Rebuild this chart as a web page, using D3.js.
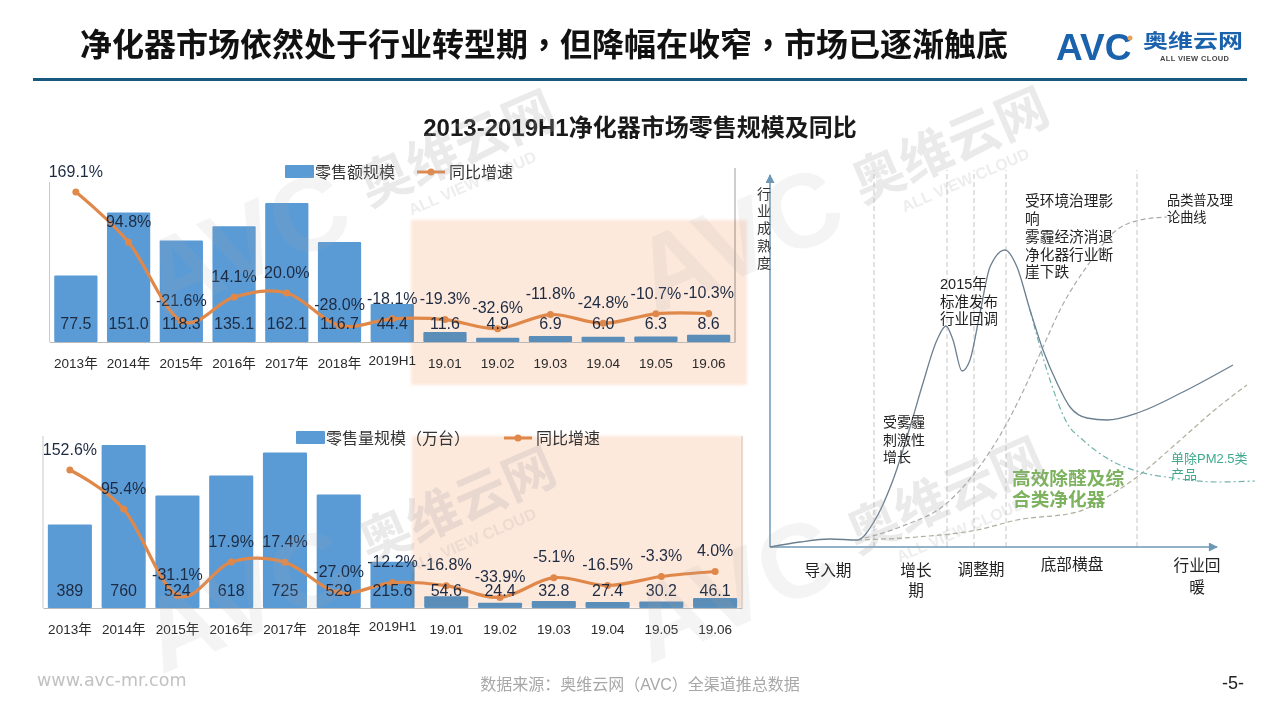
<!DOCTYPE html>
<html>
<head>
<meta charset="utf-8">
<script src="https://cdn.jsdelivr.net/npm/d3@7"></script>
<style>
  body { margin: 0; background: #fff; }
  svg { display: block; }
  text { font-family: "Liberation Sans", "Noto Sans CJK SC", sans-serif; }
</style>
</head>
<body>
<svg id="chart" width="1280" height="720"></svg>
<script>
const categories = ['2013年','2014年','2015年','2016年','2017年','2018年','2019H1','19.01','19.02','19.03','19.04','19.05','19.06']
const amountValues = [77.5,151.0,118.3,135.1,162.1,116.7,44.4,11.6,4.9,6.9,6.0,6.3,8.6]
const amountGrowth = [169.1,94.8,-21.6,14.1,20.0,-28.0,-18.1,-19.3,-32.6,-11.8,-24.8,-10.7,-10.3]
const volumeValues = [389,760,524,618,725,529,215.6,54.6,24.4,32.8,27.4,30.2,46.1]
const volumeGrowth = [152.6,95.4,-31.1,17.9,17.4,-27.0,-12.2,-16.8,-33.9,-5.1,-16.5,-3.3,4.0]

// 右侧示意图的曲线，[时间, 成熟度]，从图上读的
const mainCurve = [[0,0],[30,5],[60,8],[87,7],[105,27],[123,67],[143,130],[153,164],[167,207],[176,221],[183,207],[192,176],[200,187],[210,234],[220,280],[235,297],[247,280],[260,237],[273,197],[287,164],[300,140],[317,129],[337,127],[370,135],[413,155],[463,182]]
const pm25Curve = [[260,237],[280,167],[297,124],[313,107],[340,87],[370,75],[403,69],[447,65],[485,66]]
const theoryCurve = [[87,7],[130,20],[177,44],[207,77],[237,124],[257,164],[273,200],[290,237],[320,285],[343,314],[370,327],[397,330]]
const formaldehydeCurve = [[87,7],[147,10],[207,17],[247,27],[307,35],[337,50],[367,70],[407,104],[447,139],[477,162]]
const phaseBounds = [104,177,204,236,367]

const barColor = '#5b9bd5'
const lineColor = '#e0884a'
const labelColor = '#1d2b42'

const svg = d3.select('#chart')

function addText(parent, str, x, y, size, opts) {
  opts = opts || {}
  return parent.append('text')
    .attr('x', x).attr('y', y)
    .attr('dy', '.36em')
    .attr('font-size', size)
    .attr('fill', opts.fill || '#222')
    .attr('font-weight', opts.weight || 'normal')
    .attr('text-anchor', opts.anchor || 'start')
    .text(str)
}

// 标题，逗号用居中的字形
const title = addText(svg, '', 80, 44, 32, {fill: '#111', weight: 'bold'})
'净化器市场依然处于行业转型期，但降幅在收窄，市场已逐渐触底'.split(/(，)/).forEach(s => {
  title.append('tspan')
    .style('font-family', s === '，' ? '"Noto Sans CJK TC"' : null)
    .text(s)
})
svg.append('rect').attr('x', 33).attr('y', 78).attr('width', 1214).attr('height', 3).attr('fill', '#17587e')
addText(svg, '2013-2019H1净化器市场零售规模及同比', 640, 127, 24, {anchor: 'middle', fill: '#1a1a1a', weight: 'bold'})

// logo
addText(svg, 'AVC', 1056, 47, 37, {fill: '#1b62ad', weight: 'bold'})
svg.append('circle').attr('cx', 1130).attr('cy', 38).attr('r', 2.5).attr('fill', '#e8a25c')
addText(svg, '奥维云网', 1143, 41, 19, {fill: '#1b62ad', weight: 'bold'})
  .attr('textLength', 100).attr('lengthAdjust', 'spacingAndGlyphs')
addText(svg, 'ALL VIEW CLOUD', 1160, 58, 7.5, {fill: '#444', weight: 'bold'})
  .attr('textLength', 69).attr('lengthAdjust', 'spacing')

function drawCombo(cfg) {
  const x = d3.scaleBand().domain(categories).range(cfg.xRange).paddingInner(0.18).paddingOuter(0.09)
  const y = d3.scaleLinear().domain(cfg.barDomain).range(cfg.barRange)
  const yLine = d3.scaleLinear().domain(cfg.lineDomain).range(cfg.lineRange)
  const g = svg.append('g')
  const mid = d => x(d) + x.bandwidth() / 2

  // 框线
  g.selectAll('.frame').data(cfg.xRange).enter().append('line')
    .attr('x1', d => d).attr('x2', d => d)
    .attr('y1', (d, i) => cfg.frameTop[i]).attr('y2', cfg.barRange[0])
    .attr('stroke', (d, i) => i ? cfg.frameColor : '#c9c9c9').attr('stroke-width', 1)

  g.selectAll('.bar').data(cfg.values).enter().append('rect')
    .attr('class', 'bar')
    .attr('x', (d, i) => x(categories[i]))
    .attr('y', d => y(d))
    .attr('width', x.bandwidth())
    .attr('height', d => cfg.barRange[0] - y(d))
    .attr('rx', 1)
    .attr('fill', barColor)

  // 2019年月度背景
  g.append('rect')
    .attr('x', cfg.bandBox[0]).attr('y', cfg.bandBox[1])
    .attr('width', cfg.bandBox[2]).attr('height', cfg.bandBox[3])
    .attr('fill', '#fde8dc')
    .style('mix-blend-mode', 'multiply')
    .style('filter', 'blur(1.5px)')

  const axis = g.append('g')
    .attr('transform', 'translate(0,' + cfg.barRange[0] + ')')
    .call(d3.axisBottom(x).tickSize(0).tickPadding(16))
  axis.select('.domain').attr('stroke', '#b9b9b9')
  axis.selectAll('text')
    .attr('font-size', 13.5)
    .attr('fill', '#2a2a2a')
    .attr('font-family', '"Liberation Sans", "Noto Sans CJK SC", sans-serif')
    .attr('dy', d => d === '2019H1' ? '.55em' : '.71em')

  const line = d3.line()
    .x((d, i) => mid(categories[i]))
    .y(d => yLine(d))
    .curve(d3.curveCatmullRom.alpha(0))
  g.append('path').datum(cfg.growth)
    .attr('d', line)
    .attr('fill', 'none')
    .attr('stroke', lineColor)
    .attr('stroke-width', 3.2)
    .attr('stroke-linecap', 'round')
  g.selectAll('.pt').data(cfg.growth).enter().append('circle')
    .attr('cx', (d, i) => mid(categories[i]))
    .attr('cy', d => yLine(d))
    .attr('r', 3.5)
    .attr('fill', lineColor)

  g.selectAll('.val').data(cfg.values).enter().append('text')
    .attr('x', (d, i) => mid(categories[i]))
    .attr('y', cfg.barRange[0] - cfg.valueOffset)
    .attr('dy', '.36em')
    .attr('text-anchor', 'middle')
    .attr('font-size', 16)
    .attr('fill', labelColor)
    .text(cfg.format)

  g.selectAll('.pct').data(cfg.growth).enter().append('text')
    .attr('x', (d, i) => mid(categories[i]))
    .attr('y', d => yLine(d) - 21)
    .attr('dy', '.36em')
    .attr('text-anchor', 'middle')
    .attr('font-size', 16)
    .attr('fill', labelColor)
    .text(d => d.toFixed(1) + '%')

  // 图例
  const lg = cfg.legend
  g.append('rect').attr('x', lg.rectX).attr('y', lg.y - 7).attr('width', 29).attr('height', 13).attr('rx', 1).attr('fill', barColor)
  addText(g, lg.barName, lg.rectX + 30, lg.y, 16, {fill: '#333'})
  g.append('line').attr('x1', lg.lineX).attr('x2', lg.lineX + 28).attr('y1', lg.y).attr('y2', lg.y)
    .attr('stroke', lineColor).attr('stroke-width', 3)
  g.append('circle').attr('cx', lg.lineX + 14).attr('cy', lg.y).attr('r', 3.5).attr('fill', lineColor)
  addText(g, '同比增速', lg.lineX + 32, lg.y, 16, {fill: '#333'})
}

drawCombo({
  values: amountValues,
  growth: amountGrowth,
  format: d => d.toFixed(1),
  xRange: [49.5, 735],
  barDomain: [0, 162.1],
  barRange: [342, 203],
  lineDomain: [20, 169.1],
  lineRange: [293, 192],
  frameTop: [182, 168],
  frameColor: '#9e9e9e',
  valueOffset: 19,
  bandBox: [411, 220, 336, 165],
  legend: {rectX: 285, lineX: 417, y: 172, barName: '零售额规模'}
})

drawCombo({
  values: volumeValues,
  growth: volumeGrowth,
  format: d => String(d),
  xRange: [43, 742],
  barDomain: [0, 760],
  barRange: [608, 445],
  lineDomain: [17.9, 152.6],
  lineRange: [562, 470],
  frameTop: [436, 436],
  frameColor: '#d8c4b8',
  valueOffset: 18,
  bandBox: [412, 436, 330, 172],
  legend: {rectX: 296, lineX: 504, y: 438, barName: '零售量规模（万台）'}
})

// 右侧示意图
const tx = d3.scaleLinear().domain([0, 447]).range([770, 1217])
const ty = d3.scaleLinear().domain([0, 372]).range([547, 175])
const curveLine = d3.line().x(d => tx(d[0])).y(d => ty(d[1])).curve(d3.curveMonotoneX)
const diagram = svg.append('g')

svg.append('defs').append('marker')
  .attr('id', 'arrow').attr('viewBox', '0 0 10 10')
  .attr('refX', 9).attr('refY', 5)
  .attr('markerWidth', 7).attr('markerHeight', 6).attr('orient', 'auto')
  .append('path').attr('d', 'M0,0L10,5L0,10z').attr('fill', '#6c98b6')

diagram.selectAll('.phase').data(phaseBounds).enter().append('line')
  .attr('x1', d => tx(d)).attr('x2', d => tx(d))
  .attr('y1', ty(0)).attr('y2', ty(377))
  .attr('stroke', '#c6c6c6').attr('stroke-width', 1).attr('stroke-dasharray', '5,3')

diagram.append('line').attr('x1', tx(0)).attr('y1', ty(0)).attr('x2', tx(447)).attr('y2', ty(0))
  .attr('stroke', '#6c98b6').attr('stroke-width', 1.5).attr('marker-end', 'url(#arrow)')
diagram.append('line').attr('x1', tx(0)).attr('y1', ty(0)).attr('x2', tx(0)).attr('y2', ty(372))
  .attr('stroke', '#6c98b6').attr('stroke-width', 1.5).attr('marker-end', 'url(#arrow)')

function drawCurve(data, color, width, dash) {
  diagram.append('path').datum(data)
    .attr('d', curveLine)
    .attr('fill', 'none')
    .attr('stroke', color)
    .attr('stroke-width', width)
    .attr('stroke-dasharray', dash)
}
drawCurve(theoryCurve, '#ababab', 1.2, '5,3')
drawCurve(formaldehydeCurve, '#b0ad9c', 1.2, '5,3')
drawCurve(pm25Curve, '#74b3ad', 1.2, '6,3,2,3')
drawCurve(mainCurve, '#6b7f90', 1.3, null)

function multiline(lines, x, y0, gap, size, opts) {
  lines.forEach((s, i) => addText(diagram, s, x, y0 + i * gap, size, opts))
}
multiline(['行','业','成','熟','度'], 764, 194, 17.2, 14, {anchor: 'middle', fill: '#333'})
multiline(['受环境治理影','响','雾霾经济消退','净化器行业断','崖下跌'], 1025, 201, 17.8, 14.7)
multiline(['品类普及理','论曲线'], 1167, 200, 17, 13.2)
multiline(['2015年','标准发布','行业回调'], 940, 284, 17.5, 14.5)
multiline(['受雾霾','刺激性','增长'], 883, 422, 17.5, 14)
multiline(['导入期'], 828, 570, 20, 15.7, {anchor: 'middle'})
multiline(['增长','期'], 916, 570, 20, 15.7, {anchor: 'middle'})
multiline(['调整期'], 981, 569, 20, 15.7, {anchor: 'middle'})
multiline(['底部横盘'], 1072, 564, 20, 15.7, {anchor: 'middle'})
multiline(['行业回','暖'], 1197, 565, 22, 15.7, {anchor: 'middle'})
multiline(['高效除醛及综','合类净化器'], 1012, 478, 21, 18.7, {fill: '#7db25f', weight: 'bold'})
multiline(['单除PM2.5类','产品'], 1171, 458, 16, 13, {fill: '#3fa98d'})

// 页脚
addText(svg, 'www.avc-mr.com', 37, 680, 17.5, {fill: '#c2c2c2'}).style('font-family', '"DejaVu Sans"')
addText(svg, '数据来源：奥维云网（AVC）全渠道推总数据', 640, 684, 16, {anchor: 'middle', fill: '#a8a8a8'})
addText(svg, '-5-', 1233, 683, 18, {anchor: 'middle', fill: '#222'})

// 水印，盖在最上面
function drawWatermark(cx, cy) {
  const g = svg.append('g')
    .attr('transform', 'translate(' + cx + ',' + cy + ') rotate(-23.5)')
    .style('pointer-events', 'none')
  addText(g, 'AVC', -125, 0, 105, {anchor: 'end', fill: '#aaa', weight: 'bold'}).attr('opacity', 0.12)
  addText(g, '奥维云网', 0, 0, 52, {anchor: 'middle', fill: '#aaa', weight: 'bold'}).attr('opacity', 0.24)
  addText(g, 'ALL VIEW CLOUD', 0, 38, 16, {anchor: 'middle', fill: '#aaa', weight: 'bold'}).attr('opacity', 0.2)
}
drawWatermark(457, 148)
drawWatermark(950, 145)
drawWatermark(457, 505)
drawWatermark(945, 495)
</script>
</body>
</html>
